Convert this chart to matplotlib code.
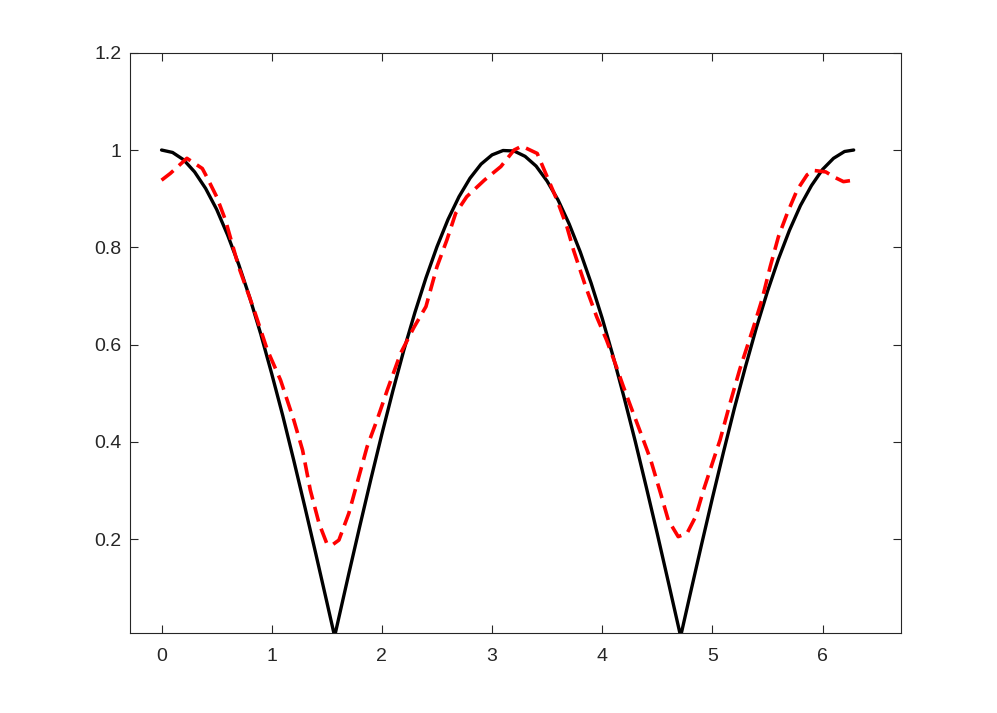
import matplotlib
matplotlib.use('Agg')
import matplotlib.pyplot as plt
from matplotlib.ticker import FormatStrFormatter

# black curve
x_exact = [0.0, 0.1, 0.2, 0.3, 0.4, 0.5, 0.6, 0.7, 0.8, 0.9, 1.0, 1.1, 1.2, 1.3, 1.4, 1.5,
           1.571, 1.6, 1.7, 1.8, 1.9, 2.0, 2.1, 2.2, 2.3, 2.4, 2.5, 2.6, 2.7, 2.8, 2.9, 3.0,
           3.1, 3.2, 3.3, 3.4, 3.5, 3.6, 3.7, 3.8, 3.9, 4.0, 4.1, 4.2, 4.3, 4.4, 4.5, 4.6,
           4.7, 4.712, 4.8, 4.9, 5.0, 5.1, 5.2, 5.3, 5.4, 5.5, 5.6, 5.7, 5.8, 5.9, 6.0,
           6.1, 6.2, 6.283]
y_exact = [1.000, 0.995, 0.980, 0.955, 0.921, 0.878, 0.825, 0.765, 0.697, 0.622, 0.540,
           0.454, 0.362, 0.267, 0.170, 0.071, 0.000, 0.029, 0.129, 0.227, 0.323, 0.416,
           0.505, 0.589, 0.666, 0.737, 0.801, 0.857, 0.904, 0.942, 0.971, 0.990, 0.999,
           0.998, 0.987, 0.967, 0.936, 0.897, 0.848, 0.791, 0.726, 0.654, 0.575, 0.490,
           0.401, 0.307, 0.211, 0.112, 0.012, 0.000, 0.088, 0.187, 0.284, 0.378, 0.469,
           0.554, 0.635, 0.709, 0.776, 0.835, 0.886, 0.927, 0.960, 0.983, 0.997, 1.000]

# red dashed approximation
x_approx = [0.00, 0.08, 0.23, 0.37, 0.41, 0.50, 0.58, 0.70, 0.84, 0.96, 1.08, 1.20, 1.28,
            1.35, 1.43, 1.50, 1.55, 1.61, 1.70, 1.775, 1.866, 1.956, 2.05, 2.17, 2.29,
            2.40, 2.50, 2.59, 2.67, 2.77, 2.93, 3.08, 3.20, 3.27, 3.41, 3.50, 3.59, 3.68,
            3.74, 3.85, 3.95, 4.04, 4.12, 4.19, 4.26, 4.35, 4.44, 4.53, 4.60, 4.69, 4.77,
            4.85, 4.92, 5.01, 5.07, 5.16, 5.25, 5.375, 5.45, 5.525, 5.60, 5.68, 5.77, 5.86,
            5.92, 6.03, 6.10, 6.19, 6.28]
y_approx = [0.938, 0.952, 0.983, 0.962, 0.945, 0.904, 0.856, 0.760, 0.671, 0.589, 0.527,
            0.445, 0.383, 0.301, 0.232, 0.191, 0.188, 0.198, 0.253, 0.315, 0.390, 0.445,
            0.507, 0.582, 0.635, 0.678, 0.760, 0.815, 0.870, 0.904, 0.938, 0.966, 1.000,
            1.008, 0.993, 0.945, 0.897, 0.842, 0.794, 0.719, 0.657, 0.609, 0.560, 0.515,
            0.472, 0.418, 0.363, 0.294, 0.239, 0.205, 0.212, 0.247, 0.301, 0.363, 0.404,
            0.479, 0.550, 0.637, 0.692, 0.760, 0.822, 0.870, 0.918, 0.949, 0.958, 0.955,
            0.945, 0.935, 0.938]

x_ticks = [0, 1, 2, 3, 4, 5, 6]
y_ticks = [0.2, 0.4, 0.6, 0.8, 1.0, 1.2]

plt.rcParams['font.family'] = ['Liberation Sans', 'DejaVu Sans']

fig = plt.figure(figsize=(9.97, 7.13), dpi=100)
ax = fig.add_axes([0.13, 0.112, 0.774, 0.814])

ax.plot(x_exact, y_exact, color='black', linewidth=2.4,
        solid_joinstyle='round', solid_capstyle='round')
ax.plot(x_approx, y_approx, color='red', linewidth=2.6, dashes=(4.2, 2.1),
        dash_joinstyle='round')

ax.set_xlim(-0.29, 6.715)
ax.set_ylim(0.0066, 1.2)
ax.set_xticks(x_ticks)
ax.set_yticks(y_ticks)
ax.yaxis.set_major_formatter(FormatStrFormatter('%g'))

axis_col = '#262626'
for s in ax.spines.values():
    s.set_color(axis_col)
    s.set_linewidth(0.8)
ax.tick_params(direction='in', length=6, width=0.8, colors=axis_col,
               top=True, right=True, labelsize=14)
ax.tick_params(axis='x', pad=11)
ax.tick_params(axis='y', pad=6)

fig.savefig('out.png', dpi=100)
